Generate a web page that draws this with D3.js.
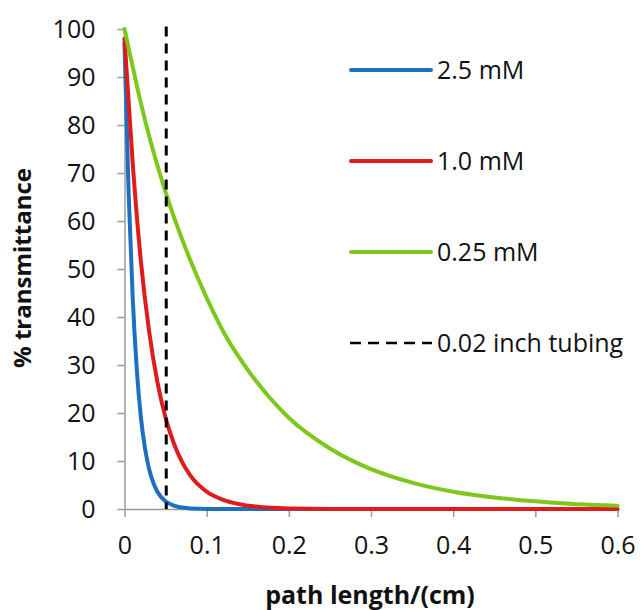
<!DOCTYPE html>
<html>
<head>
<meta charset="utf-8">
<script src="https://cdn.jsdelivr.net/npm/d3@7"></script>
<style>
  body { margin: 0; background: #fff; }
  svg text { font-family: "Open Sans", Lato, sans-serif; fill: #111; }
  .axis path, .axis line { stroke: #9a9a9a; stroke-width: 1.5; }
</style>
</head>
<body>
<script>
// values
var blueX = [0, 0.005, 0.01, 0.015, 0.02, 0.025, 0.03, 0.035, 0.04, 0.05, 0.06, 0.07, 0.08, 0.1, 0.15, 0.2, 0.3, 0.4, 0.5, 0.6]
var blueY = [97, 66, 44, 29, 19, 12.6, 8.3, 5.5, 3.6, 1.6, 0.7, 0.3, 0.1, 0, 0, 0, 0, 0, 0, 0]

var redX = [0, 0.01, 0.02, 0.03, 0.04, 0.05, 0.06, 0.07, 0.08, 0.1, 0.12, 0.14, 0.16, 0.2, 0.25, 0.3, 0.4, 0.5, 0.6]
var redY = [98, 72, 51.5, 37, 26.5, 19, 13.7, 9.8, 7.0, 3.6, 1.9, 1.0, 0.5, 0.1, 0, 0, 0, 0, 0]

var greenX = [0, 0.025, 0.05, 0.075, 0.1, 0.125, 0.15, 0.2, 0.25, 0.3, 0.35, 0.4, 0.45, 0.5, 0.55, 0.6]
var greenY = [100, 81, 66, 54, 44, 35.5, 29, 19, 12.6, 8.3, 5.5, 3.6, 2.4, 1.6, 1.0, 0.7]

var tubingX = 0.0508
var seriesNames = ["2.5 mM", "1.0 mM", "0.25 mM"]
var seriesColors = ["#1f6fc0", "#e01b1b", "#7cc81c"]
var xTicks = [0, 0.1, 0.2, 0.3, 0.4, 0.5, 0.6]
var yTicks = [0, 10, 20, 30, 40, 50, 60, 70, 80, 90, 100]

var W = 642, H = 610
var plotLeft = 124.5, plotRight = 617.5, plotTop = 29, plotBottom = 509

var svg = d3.select("body").append("svg").attr("width", W).attr("height", H)

var x = d3.scaleLinear().domain([0, 0.6]).range([plotLeft, plotRight])
var y = d3.scaleLinear().domain([0, 100]).range([plotBottom, plotTop])

svg.append("g").classed("axis", true)
  .attr("transform", "translate(0," + plotBottom + ")")
  .call(d3.axisBottom(x).tickValues(xTicks).tickSize(8).tickSizeOuter(0).tickPadding(19)
    .tickFormat(d => d === 0 ? "0" : d3.format(".1f")(d)))
svg.append("g").classed("axis", true)
  .attr("transform", "translate(" + plotLeft + ",0)")
  .call(d3.axisLeft(y).tickValues(yTicks).tickSize(7).tickSizeOuter(0).tickPadding(22))
svg.selectAll(".axis text").style("font-size", "25px").style("font-family", "'Open Sans', sans-serif")

// axis titles
svg.append("text").text("path length/(cm)")
  .attr("x", 370).attr("y", 604).attr("text-anchor", "middle")
  .style("font-size", "25px").style("font-weight", "bold")
svg.append("text").text("% transmittance")
  .attr("transform", "translate(31,268) rotate(-90)").attr("text-anchor", "middle")
  .style("font-size", "24px").style("font-weight", "bold")

var line = d3.line().x(d => x(d[0])).y(d => y(d[1])).curve(d3.curveMonotoneX)
var series = [d3.zip(blueX, blueY), d3.zip(redX, redY), d3.zip(greenX, greenY)]

series.forEach(function(s, i) {
  svg.append("path").datum(s).attr("d", line)
    .attr("fill", "none").attr("stroke", seriesColors[i]).attr("stroke-width", 4)
    .attr("stroke-linejoin", "round").attr("stroke-linecap", "round")
})

// tubing marker
svg.append("line")
  .attr("x1", x(tubingX)).attr("x2", x(tubingX)).attr("y1", y(100.5)).attr("y2", y(0))
  .attr("stroke", "#000").attr("stroke-width", 3).attr("stroke-dasharray", "10,7")

// legend
var legY = [70, 161, 252, 343]
var leg = svg.append("g")
seriesNames.forEach(function(n, i) {
  leg.append("line").attr("x1", 351).attr("x2", 431).attr("y1", legY[i]).attr("y2", legY[i])
    .attr("stroke", seriesColors[i]).attr("stroke-width", 4).attr("stroke-linecap", "round")
  leg.append("text").text(n).attr("x", 437).attr("y", legY[i]).attr("dy", "0.36em")
    .style("font-size", "25px")
})
leg.append("line").attr("x1", 350).attr("x2", 432).attr("y1", legY[3]).attr("y2", legY[3])
  .attr("stroke", "#000").attr("stroke-width", 2.5).attr("stroke-dasharray", "11,7")
leg.append("text").text("0.02 inch tubing").attr("x", 437).attr("y", legY[3]).attr("dy", "0.36em")
  .style("font-size", "25px")
</script>
</body>
</html>
